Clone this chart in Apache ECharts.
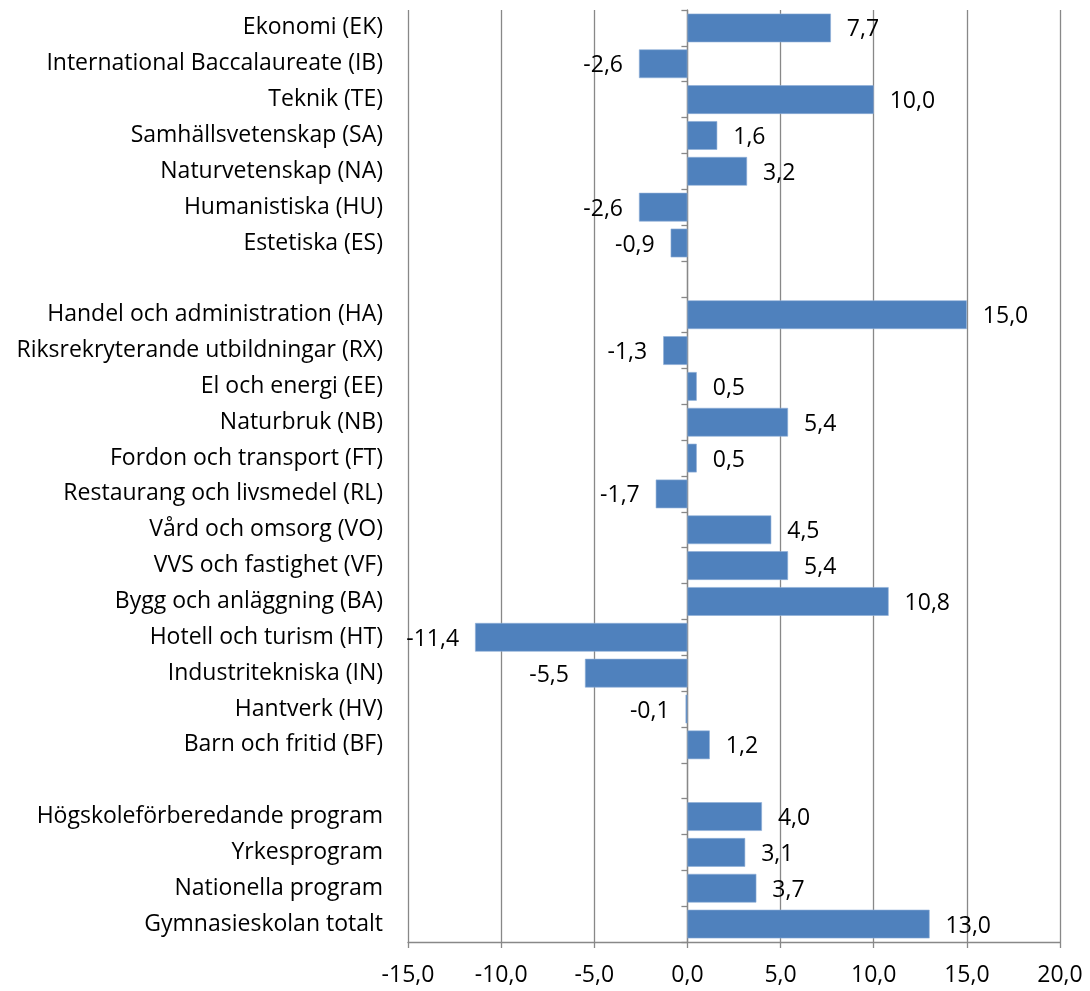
<!DOCTYPE html>
<html>
<head>
<meta charset="utf-8">
<script src="https://cdn.jsdelivr.net/npm/echarts@6/dist/echarts.min.js"></script>
<style>
  html, body { margin: 0; padding: 0; background: #fff; }
  #chart { width: 1090px; height: 991px; }
</style>
</head>
<body>
<div id="chart"></div>
<script>
// program categories, top to bottom ('' and ' ' are the blank separator rows)
const programs = [
  "Ekonomi (EK)",
  "International Baccalaureate (IB)",
  "Teknik (TE)",
  "Samhällsvetenskap (SA)",
  "Naturvetenskap (NA)",
  "Humanistiska (HU)",
  "Estetiska (ES)",
  "",
  "Handel och administration (HA)",
  "Riksrekryterande utbildningar (RX)",
  "El och energi (EE)",
  "Naturbruk (NB)",
  "Fordon och transport (FT)",
  "Restaurang och livsmedel (RL)",
  "Vård och omsorg (VO)",
  "VVS och fastighet (VF)",
  "Bygg och anläggning (BA)",
  "Hotell och turism (HT)",
  "Industritekniska (IN)",
  "Hantverk (HV)",
  "Barn och fritid (BF)",
  " ",
  "Högskoleförberedande program",
  "Yrkesprogram",
  "Nationella program",
  "Gymnasieskolan totalt"
];
const change = [7.7, -2.6, 10.0, 1.6, 3.2, -2.6, -0.9, null,
  15.0, -1.3, 0.5, 5.4, 0.5, -1.7, 4.5, 5.4, 10.8, -11.4, -5.5, -0.1, 1.2, null,
  4.0, 3.1, 3.7, 13.0];
const xMin = -15, xMax = 20, xStep = 5;

const fmt = v => v.toFixed(1).replace('.', ',');
const font = 'Open Sans';
const fs = 23;
const gray = '#888888';

const barData = change.map(v => v === null ? '-' : {
  value: v,
  label: { position: v < 0 ? 'left' : 'right' }
});

const chart = echarts.init(document.getElementById('chart'));
chart.setOption({
  animation: false,
  textStyle: { fontFamily: font },
  grid: { left: 408, right: 30, top: 10, bottom: 49, containLabel: false },
  xAxis: {
    type: 'value',
    min: xMin, max: xMax, interval: xStep,
    axisLine: { show: true, onZero: false, lineStyle: { color: gray, width: 1.3 } },
    axisTick: { show: true, length: 6, lineStyle: { color: gray, width: 1.3 } },
    splitLine: { show: true, lineStyle: { color: gray, width: 1.3 } },
    axisLabel: { formatter: fmt, color: '#000', fontSize: fs, fontFamily: font, margin: 22 }
  },
  yAxis: [{
    type: 'category',
    data: programs,
    inverse: true,
    axisLine: { show: false, onZero: false },
    axisTick: { show: false },
    axisLabel: { color: '#000', fontSize: fs, fontFamily: font, margin: 25 }
  }, {
    type: 'category',
    data: programs,
    inverse: true,
    position: 'left',
    axisLine: { show: true, onZero: true, lineStyle: { color: gray, width: 1.3 } },
    axisTick: { show: true, length: 6, lineStyle: { color: gray, width: 1.3 } },
    axisLabel: { show: false }
  }],
  series: [{
    type: 'bar',
    yAxisIndex: 0,
    data: barData,
    barCategoryGap: '20%',
    itemStyle: { color: '#4F81BD', borderColor: '#8eaed6', borderWidth: 0.6 },
    label: {
      show: true,
      distance: 16,
      offset: [0, 2],
      color: '#000',
      fontSize: fs,
      fontFamily: font,
      formatter: p => fmt(p.value)
    }
  }]
});
</script>
</body>
</html>
